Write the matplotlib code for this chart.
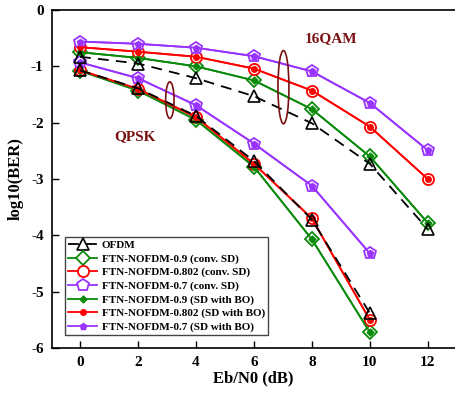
import matplotlib
matplotlib.use("Agg")
import matplotlib.pyplot as plt
from matplotlib.patches import Ellipse

snr_qpsk = [0, 2, 4, 6, 8, 10]
snr_16qam = [0, 2, 4, 6, 8, 10, 12]

ofdm_qpsk = [-1.07, -1.39, -1.88, -2.68, -3.72, -5.38]
ofdm_16qam = [-0.83, -0.95, -1.21, -1.53, -2.01, -2.73, -3.89]

ftn09_qpsk = [-1.08, -1.43, -1.95, -2.78, -4.07, -5.72]
ftn0802_qpsk = [-1.07, -1.40, -1.90, -2.73, -3.70, -5.50]
ftn07_qpsk = [-0.93, -1.21, -1.69, -2.37, -3.12, -4.32]

ftn09_16qam = [-0.75, -0.85, -1.00, -1.25, -1.76, -2.60, -3.78]
ftn0802_16qam = [-0.66, -0.74, -0.83, -1.04, -1.43, -2.07, -3.00]
ftn07_16qam = [-0.56, -0.60, -0.67, -0.82, -1.09, -1.65, -2.49]

labels = ["OFDM",
          "FTN-NOFDM-0.9 (conv. SD)",
          "FTN-NOFDM-0.802 (conv. SD)",
          "FTN-NOFDM-0.7 (conv. SD)",
          "FTN-NOFDM-0.9 (SD with BO)",
          "FTN-NOFDM-0.802 (SD with BO)",
          "FTN-NOFDM-0.7 (SD with BO)"]

plt.rcParams['font.family'] = ['Liberation Serif', 'DejaVu Serif']
plt.rcParams['font.weight'] = 'bold'
plt.rcParams['axes.unicode_minus'] = False

GREEN = '#0A8A0A'
RED = '#FF0000'
PURPLE = '#9933FF'
DARKRED = '#7A1010'

fig = plt.figure(figsize=(4.55, 3.96), dpi=100)
ax = fig.add_axes([52/455, 1-348/396, 1-52/455, (348-10)/396])

lw = 1.3
# OFDM
ax.plot(snr_qpsk, ofdm_qpsk, color='black', ls=(0, (6, 4)), lw=lw, marker='^', ms=8.5,
        mfc='none', mec='black', mew=1.2, label=labels[0], zorder=5)
ax.plot(snr_16qam, ofdm_16qam, color='black', ls=(0, (6, 4)), lw=lw, marker='^', ms=8.5,
        mfc='none', mec='black', mew=1.2, zorder=5)

conv = [(ftn09_qpsk, ftn09_16qam, GREEN, 'D', 7.0),
        (ftn0802_qpsk, ftn0802_16qam, RED, 'o', 8.0),
        (ftn07_qpsk, ftn07_16qam, PURPLE, 'p', 9.0)]
for i, (q, m, c, mk, ms) in enumerate(conv):
    ax.plot(snr_qpsk, q, color=c, lw=lw, marker=mk, ms=ms, mfc='white', mec=c, mew=1.3,
            label=labels[1+i], zorder=3)
    ax.plot(snr_16qam, m, color=c, lw=lw, marker=mk, ms=ms, mfc='white', mec=c, mew=1.3,
            zorder=3)
bo = [(ftn09_qpsk, ftn09_16qam, GREEN, 'D', 3.5),
      (ftn0802_qpsk, ftn0802_16qam, RED, 'o', 4.0),
      (ftn07_qpsk, ftn07_16qam, PURPLE, 'p', 4.5)]
for i, (q, m, c, mk, ms) in enumerate(bo):
    ax.plot(snr_qpsk, q, color=c, lw=lw, marker=mk, ms=ms, mfc=c, mec=c,
            label=labels[4+i], zorder=4)
    ax.plot(snr_16qam, m, color=c, lw=lw, marker=mk, ms=ms, mfc=c, mec=c, zorder=4)

ax.add_patch(Ellipse((3.1, -1.6), 0.29, 0.65, fill=False, ec=DARKRED, lw=1.2, zorder=6))
ax.add_patch(Ellipse((7.02, -1.37), 0.38, 1.30, fill=False, ec=DARKRED, lw=1.2, zorder=6))
ax.text(1.9, -2.25, "QPSK", color=DARKRED, fontsize=11, fontweight='bold', ha='center', va='center')
ax.text(8.68, -0.50, "16QAM", color=DARKRED, fontsize=11, fontweight='bold', ha='center', va='center')

ax.set_xlim(-0.966, 12.94)
ax.set_ylim(-6, 0)
ax.set_xticks([0, 2, 4, 6, 8, 10, 12])
ax.set_yticks([-6, -5, -4, -3, -2, -1, 0])
ax.tick_params(direction='in', length=5, width=1, labelsize=11, pad=6)
for lab in ax.get_xticklabels() + ax.get_yticklabels():
    lab.set_fontweight('bold')
ax.spines['right'].set_visible(False)
for s in ['left', 'bottom', 'top']:
    ax.spines[s].set_linewidth(1.2)
ax.set_xlabel("Eb/N0 (dB)", fontsize=12, fontweight='bold', labelpad=1)
ax.set_ylabel("log10(BER)", fontsize=12, fontweight='bold', labelpad=5)

leg = ax.legend(loc='lower left', bbox_to_anchor=(0.032, 0.038), borderaxespad=0,
                prop={'family': ['Liberation Serif'], 'weight': 'bold', 'size': 8},
                fancybox=False, edgecolor='#444444', framealpha=1, labelspacing=0.32,
                handlelength=2.6, handletextpad=0.4, borderpad=0.3)
leg.get_frame().set_linewidth(1.0)

fig.savefig("out.png", dpi=100)
